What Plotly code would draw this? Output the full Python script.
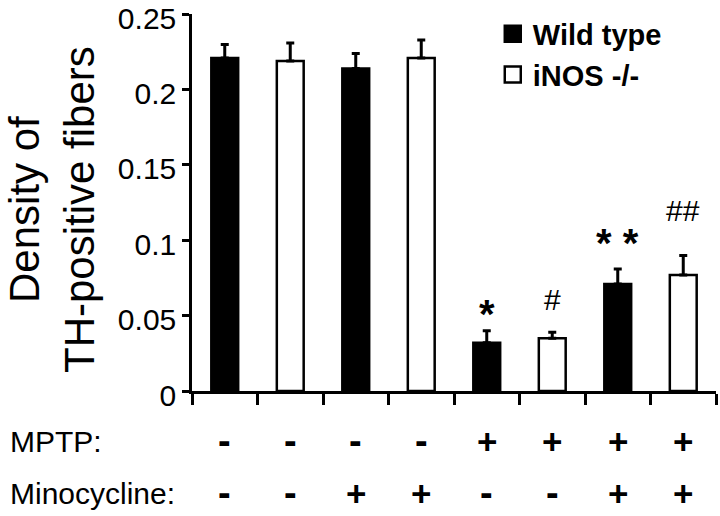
import plotly.graph_objects as go

# ---- data ----
groups = ["WT", "iNOS", "WT+Mino", "iNOS+Mino", "WT+MPTP", "iNOS+MPTP", "WT+MPTP+Mino", "iNOS+MPTP+Mino"]
density = [0.221, 0.219, 0.214, 0.221, 0.032, 0.035, 0.071, 0.077]
sem = [0.009, 0.012, 0.010, 0.012, 0.008, 0.004, 0.010, 0.013]
genotype = ["Wild type", "iNOS -/-", "Wild type", "iNOS -/-", "Wild type", "iNOS -/-", "Wild type", "iNOS -/-"]
mptp = ["-", "-", "-", "-", "+", "+", "+", "+"]
minocycline = ["-", "-", "+", "+", "-", "-", "+", "+"]
sig_marks = ["", "", "", "", "*", "#", "* *", "##"]
ytick_vals = [0, 0.05, 0.1, 0.15, 0.2, 0.25]
ytick_text = ["0", "0.05", "0.1", "0.15", "0.2", "0.25"]

# styling: pixel gap of each significance mark above its error bar
sig_gap_px = [0, 0, 0, 0, -7, 14, 2, 26]

FONT = "Arial, Liberation Sans, Helvetica, sans-serif"
pos = [i + 0.5 for i in range(len(groups))]

fig = go.Figure()
for name, fill in [("Wild type", "black"), ("iNOS -/-", "white")]:
    idx = [i for i, g in enumerate(genotype) if g == name]
    fig.add_trace(go.Bar(
        x=[pos[i] for i in idx], y=[density[i] for i in idx],
        width=0.41, marker=dict(color=fill, line=dict(color="black", width=2.5)),
        error_y=dict(type="data", symmetric=False, array=[sem[i] for i in idx],
                     arrayminus=[0] * len(idx), color="black", thickness=3, width=4),
        showlegend=False, name=name))
    # legend entry
    fig.add_trace(go.Scatter(
        x=[None], y=[None], mode="markers", name=name,
        marker=dict(symbol="square", size=16, color=fill, line=dict(color="black", width=2.5))))

# plot area in page pixels: left 192, right 716, top 14, bottom 391
PW, PH = 524, 377

annotations = []
for i, m in enumerate(sig_marks):
    if not m:
        continue
    star = "*" in m
    annotations.append(dict(
        x=pos[i], y=density[i] + sem[i], xref="x", yref="y",
        text=("<b>" + m + "</b>") if star else m, showarrow=False,
        yanchor="bottom", yshift=sig_gap_px[i],
        font=dict(family=FONT, size=(40 if star else 30), color="black")))

row_y = {"MPTP:": (391 - 441) / PH, "Minocycline:": (391 - 493) / PH}
for label, signs in [("MPTP:", mptp), ("Minocycline:", minocycline)]:
    annotations.append(dict(x=(8 - 192) / PW, y=row_y[label], xref="paper", yref="paper",
                            text=label, showarrow=False, xanchor="left", yanchor="middle",
                            font=dict(family=FONT, size=30, color="black")))
    for i, s in enumerate(signs):
        minus = s == "-"
        annotations.append(dict(x=pos[i], y=row_y[label], xref="x", yref="paper",
                                text="<b>" + s + "</b>", showarrow=False, yanchor="middle",
                                font=dict(family=FONT, size=(38 if minus else 35), color="black")))

annotations.append(dict(x=(52 - 192) / PW, y=(391 - 210) / PH, xref="paper", yref="paper",
                        text="Density of<br>TH-positive fibers", textangle=-90, showarrow=False,
                        xanchor="center", yanchor="middle",
                        font=dict(family=FONT, size=42, color="black")))

fig.update_layout(
    width=720, height=516,
    margin=dict(l=192, r=4, t=14, b=125, autoexpand=False),
    paper_bgcolor="white", plot_bgcolor="white",
    barmode="overlay",
    annotations=annotations,
    legend=dict(x=0.574, y=1.015, xanchor="left", yanchor="top", bgcolor="rgba(0,0,0,0)",
                font=dict(family=FONT, size=29, color="black", weight="bold"),
                itemsizing="trace", tracegroupgap=0),
    xaxis=dict(range=[0, 8], tickvals=list(range(9)), showticklabels=False,
               ticks="outside", ticklen=11, tickwidth=2.5, tickcolor="black",
               showline=True, linecolor="black", linewidth=2.5, showgrid=False, zeroline=False),
    yaxis=dict(range=[0, 0.2502], tickvals=ytick_vals, ticktext=ytick_text,
               ticks="outside", ticklen=7, tickwidth=2.5, tickcolor="black",
               ticklabeloverflow="allow", ticklabelshift=4,
               tickfont=dict(family=FONT, size=30, color="black"),
               showline=True, linecolor="black", linewidth=2.5, showgrid=False, zeroline=False),
)

fig.write_html("out.html", config={"displayModeBar": False},
               post_script="document.body.style.margin='0px';")
